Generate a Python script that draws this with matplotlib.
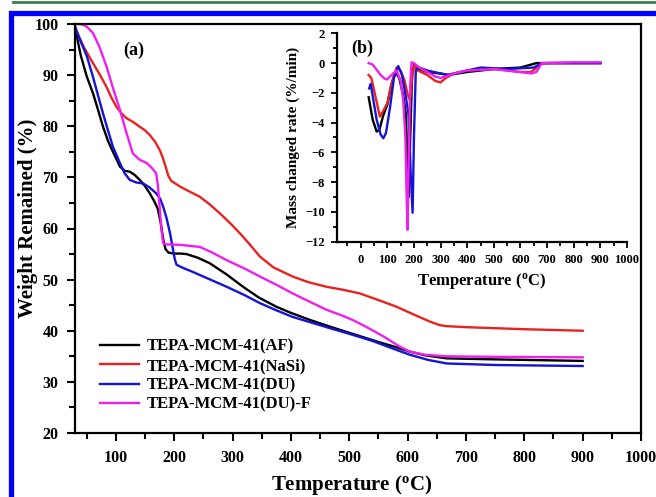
import matplotlib
matplotlib.use("Agg")
import matplotlib.pyplot as plt
from matplotlib.ticker import MultipleLocator
from matplotlib.patches import Rectangle
from matplotlib.lines import Line2D

plt.rcParams['font.family'] = ['Liberation Serif', 'DejaVu Serif']
plt.rcParams['font.weight'] = 'bold'
plt.rcParams['mathtext.fontset'] = 'custom'
plt.rcParams['mathtext.rm'] = 'Liberation Serif:bold'
plt.rcParams['mathtext.bf'] = 'Liberation Serif:bold'
plt.rcParams['mathtext.it'] = 'Liberation Serif:bold:italic'

labels = ['TEPA-MCM-41(AF)', 'TEPA-MCM-41(NaSi)', 'TEPA-MCM-41(DU)', 'TEPA-MCM-41(DU)-F']
colors = ['#000000', '#e8231f', '#1414d8', '#f01ef0']

# ---- TG data (a) ----
af_T = [30, 35, 40, 50, 61, 70, 78, 87, 95, 107, 115, 124, 132, 141, 150, 158, 166, 172, 177, 181, 185, 190, 198, 210, 221, 240, 261, 290, 318, 345, 375, 400, 433, 467, 500, 550, 580, 604, 630, 667, 750, 900]
af_W = [99.5, 96.5, 93.8, 89.8, 86.4, 83.0, 79.9, 77.0, 75.0, 72.1, 71.3, 71.1, 70.5, 69.5, 68.3, 66.9, 65.3, 63.8, 61.0, 58.0, 56.0, 55.3, 55.1, 55.1, 55.0, 54.3, 53.2, 51.0, 48.6, 46.5, 44.7, 43.5, 42.1, 40.8, 39.6, 37.8, 36.8, 35.9, 35.2, 34.6, 34.4, 34.1]

nasi_T = [30, 35, 45, 61, 72, 84, 92, 101, 110, 118, 130, 141, 150, 158, 167, 175, 180, 185, 190, 195, 202, 210, 225, 244, 260, 278, 298, 318, 333, 347, 370, 403, 430, 461, 490, 518, 550, 581, 610, 638, 655, 667, 700, 800, 900]
nasi_W = [99.0, 98.0, 95.5, 92.3, 90.2, 87.7, 85.7, 83.8, 82.5, 81.6, 80.8, 79.9, 79.2, 78.3, 77.0, 75.4, 74.0, 72.2, 70.3, 69.3, 68.8, 68.2, 67.3, 66.2, 64.8, 63.0, 60.8, 58.4, 56.4, 54.5, 52.4, 50.6, 49.5, 48.6, 48.0, 47.3, 46.0, 44.7, 43.2, 41.8, 41.1, 40.9, 40.7, 40.3, 40.0]

du_T = [30, 40, 50, 60, 70, 78, 87, 95, 107, 115, 124, 135, 147, 158, 169, 176, 181, 187, 193, 197, 201, 204, 215, 232, 260, 290, 320, 347, 375, 403, 435, 467, 500, 540, 575, 604, 635, 667, 750, 900]
du_W = [99.5, 96.5, 93.8, 90.0, 85.8, 82.5, 79.0, 76.0, 72.8, 70.8, 69.5, 69.0, 68.8, 68.0, 66.9, 65.8, 64.3, 62.0, 59.0, 56.5, 54.0, 52.9, 52.3, 51.5, 50.1, 48.6, 47.0, 45.4, 44.0, 42.7, 41.6, 40.5, 39.4, 38.0, 36.5, 35.3, 34.3, 33.6, 33.3, 33.1]

duf_T = [30, 40, 50, 61, 72, 84, 95, 107, 118, 129, 140, 153, 162, 169, 172, 175, 178, 181, 186, 210, 244, 265, 290, 320, 347, 375, 403, 430, 461, 485, 506, 530, 560, 585, 604, 630, 667, 750, 900]
duf_W = [100.0, 100.0, 99.5, 98.2, 95.5, 91.7, 87.5, 83.2, 78.8, 74.7, 73.5, 72.8, 71.8, 70.8, 68.5, 64.3, 60.0, 57.1, 56.9, 56.8, 56.4, 55.3, 53.8, 52.2, 50.6, 49.0, 47.3, 45.8, 44.1, 43.1, 42.1, 40.7, 38.8, 37.0, 35.9, 35.3, 35.0, 34.9, 34.8]

# ---- DTG data (b) ----
af_dT = [30, 45, 60, 70, 85, 100, 115, 130, 145, 160, 170, 176, 180, 186, 193, 200, 220, 250, 300, 330, 400, 500, 600, 660, 700, 800, 900]
af_dR = [-2.3, -3.8, -4.6, -4.5, -3.5, -2.8, -1.5, -0.6, -1.0, -2.2, -3.5, -7.0, -9.0, -5.0, -0.8, -0.1, -0.4, -0.6, -0.7, -0.8, -0.6, -0.4, -0.3, 0.0, 0.0, 0.0, 0.0]

nasi_dT = [30, 40, 55, 72, 85, 100, 115, 135, 150, 165, 175, 185, 192, 200, 215, 250, 280, 300, 320, 350, 400, 500, 600, 640, 680, 700, 800, 900]
nasi_dR = [-0.8, -1.0, -2.2, -3.6, -3.2, -2.7, -1.4, -0.3, -0.5, -1.2, -2.0, -2.5, -1.2, -0.2, -0.5, -0.8, -1.2, -1.3, -1.0, -0.7, -0.5, -0.4, -0.6, -0.6, -0.05, 0.0, 0.0, 0.0]

du_dT = [32, 38, 45, 60, 75, 85, 95, 110, 125, 141, 155, 170, 180, 188, 195, 200, 207, 220, 250, 300, 322, 350, 400, 450, 550, 650, 680, 700, 800, 900]
du_dR = [-1.7, -1.4, -2.2, -3.8, -4.8, -5.05, -4.7, -3.0, -1.0, -0.2, -0.8, -2.3, -3.5, -7.5, -10.05, -5.0, -0.5, -0.3, -0.5, -0.7, -0.8, -0.7, -0.5, -0.3, -0.4, -0.3, 0.0, 0.0, 0.0, 0.0]

duf_dT = [30, 45, 60, 75, 90, 100, 110, 122, 135, 150, 160, 168, 172, 176, 180, 186, 191, 200, 220, 250, 280, 300, 320, 350, 400, 500, 600, 640, 660, 680, 700, 800, 900]
duf_dR = [0.0, -0.1, -0.45, -0.8, -1.05, -1.1, -0.9, -0.7, -0.5, -1.2, -2.5, -5.0, -8.5, -11.2, -7.0, -1.5, 0.05, 0.0, -0.3, -0.6, -0.9, -1.0, -0.9, -0.7, -0.5, -0.4, -0.6, -0.7, -0.6, 0.0, 0.0, 0.05, 0.05]

W, H = 656, 497
fig = plt.figure(figsize=(W / 100, H / 100), dpi=100)

# decorative page frame
fig.add_artist(Line2D([12.7 / W, 1.0], [1 - 1.5 / H, 1 - 1.5 / H], color='#3d7d50', lw=2.0, transform=fig.transFigure))
fig.add_artist(Rectangle((10.5 / W, -0.05), 1.2, 1.05 - 13.5 / H, fill=False, edgecolor='#0000ff', lw=3.8, transform=fig.transFigure))

ax = fig.add_axes([75 / W, (H - 433) / H, 566 / W, 409 / H])
series = [(af_T, af_W), (nasi_T, nasi_W), (du_T, du_W), (duf_T, duf_W)]
for (t, w), c, lab in zip(series, colors, labels):
    ax.plot(t, w, color=c, lw=1.7, label=lab)
ax.set_xlim(30, 1000)
ax.set_ylim(20, 100)
ax.xaxis.set_major_locator(MultipleLocator(100))
ax.xaxis.set_minor_locator(MultipleLocator(50))
ax.yaxis.set_major_locator(MultipleLocator(10))
ax.yaxis.set_minor_locator(MultipleLocator(5))
ax.tick_params(which='both', direction='out', width=1.5, labelsize=11.5, top=False, right=False)
ax.tick_params(which='major', length=6, pad=6)
ax.tick_params(which='minor', length=4)
for s in ax.spines.values():
    s.set_linewidth(1.6)
ax.set_xlabel(r'Temperature ($^{\mathbf{o}}$C)', fontsize=15, fontweight='bold')
ax.set_ylabel('Weight Remained (%)', fontsize=15, fontweight='bold')
ax.xaxis.set_label_coords((352 - 75) / 566, (433 - 485) / 409)
ax.yaxis.set_label_coords((28 - 75) / 566, (433 - 218) / 409)
ax.xaxis.label.set_va('center')
ax.yaxis.label.set_va('center')
ax.text(0.085, 0.935, '(a)', transform=ax.transAxes, fontsize=13, fontweight='bold', ha='left', va='center')
leg = ax.legend(loc='center left', bbox_to_anchor=(0.045, 0.14), frameon=False, fontsize=12,
                handlelength=2.3, handletextpad=0.5, labelspacing=0.2, borderpad=0, borderaxespad=0)
for t in leg.get_texts():
    t.set_fontweight('bold')

# inset
ins = fig.add_axes([336.7 / W, (H - 241.7) / H, 290.3 / W, 208.4 / H])
dseries = [(af_dT, af_dR), (nasi_dT, nasi_dR), (du_dT, du_dR), (duf_dT, duf_dR)]
for (t, r), c in zip(dseries, colors):
    ins.plot(t, r, color=c, lw=1.7)
ins.set_xlim(-90, 1000)
ins.set_ylim(-12, 2)
ins.xaxis.set_major_locator(MultipleLocator(100))
ins.xaxis.set_minor_locator(MultipleLocator(50))
ins.yaxis.set_major_locator(MultipleLocator(2))
ins.yaxis.set_minor_locator(MultipleLocator(1))
ins.spines['top'].set_visible(False)
ins.spines['right'].set_visible(False)
for s in ('left', 'bottom'):
    ins.spines[s].set_linewidth(1.6)
ins.patch.set_alpha(0)
ins.tick_params(which='both', direction='out', width=1.3, labelsize=9)
ins.tick_params(which='major', length=4.5, pad=4)
ins.tick_params(which='minor', length=3)
ins.set_xlabel(r'Temperature ($^{\mathbf{o}}$C)', fontsize=12, fontweight='bold', labelpad=4)
ins.set_ylabel('Mass changed rate (%/min)', fontsize=11, fontweight='bold', labelpad=4)
ins.text(0.05, 0.93, '(b)', transform=ins.transAxes, fontsize=13, fontweight='bold', ha='left', va='center')

fig.savefig('out.png', dpi=100)
